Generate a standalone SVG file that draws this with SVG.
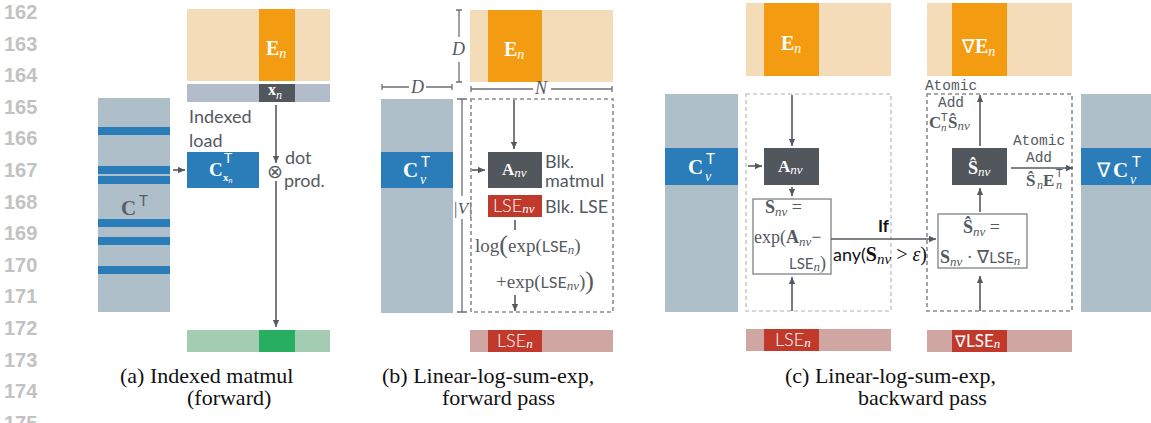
<svg xmlns="http://www.w3.org/2000/svg" width="1151" height="423" viewBox="0 0 1151 423">
<style>
.ln{font-family:"Liberation Sans",Arial,sans-serif;font-size:20px;font-weight:bold;fill:#c2c2c2}
.cap{font-family:"Liberation Serif","Times New Roman",serif;font-size:22px;fill:#111}
.sans{font-family:Lato,"Liberation Sans",sans-serif;font-size:18px;fill:#555a61}
.mono{font-family:"Liberation Mono","DejaVu Sans Mono",monospace;font-size:14.5px;fill:#555a61}
.m{font-family:"Liberation Serif","Times New Roman",serif}
.b{font-weight:bold}
.i{font-style:italic;font-weight:normal}
.w{fill:#fff}
.g{fill:#555a61}
.lo{fill:#f4dcb8}.do{fill:#f39c12}
.lb{fill:#aebfca}.bl{fill:#2a7db8}
.dg{fill:#52565d}.rd{fill:#c0392b}.lr{fill:#cfa6a2}
.lg{fill:#a3ccb3}.gr{fill:#27ae60}
.c{stroke:#555a61;stroke-width:1.6;fill:none}
.dim{stroke:#6b6f76;stroke-width:1.3;fill:none}
.box{fill:#fff;stroke:#7d8188;stroke-width:1.3}
.dash{fill:none;stroke:#8a8d92;stroke-width:1.6;stroke-dasharray:4 3}
.dashl{fill:none;stroke:#c9cacc;stroke-width:1.6;stroke-dasharray:4 3}
.tt{font-family:Lato,"Liberation Sans",sans-serif;font-style:normal;font-weight:normal}
</style>
<defs>
<marker id="ah" viewBox="0 0 10 10" refX="10" refY="5" markerWidth="7" markerHeight="7" markerUnits="userSpaceOnUse" orient="auto"><path d="M0,0.5 L10,5 L0,9.5 z" fill="#555a61"/></marker>
</defs>
<rect width="1151" height="423" fill="#fff"/>

<g id="linenumbers">
<text class="ln" x="4" y="19">162</text>
<text class="ln" x="4" y="50.6">163</text>
<text class="ln" x="4" y="82.2">164</text>
<text class="ln" x="4" y="113.8">165</text>
<text class="ln" x="4" y="145.4">166</text>
<text class="ln" x="4" y="177">167</text>
<text class="ln" x="4" y="208.6">168</text>
<text class="ln" x="4" y="240.2">169</text>
<text class="ln" x="4" y="271.8">170</text>
<text class="ln" x="4" y="303.4">171</text>
<text class="ln" x="4" y="335">172</text>
<text class="ln" x="4" y="366.6">173</text>
<text class="ln" x="4" y="398.2">174</text>
<text class="ln" x="4" y="429.8">175</text>
</g>

<!-- Panel (a) -->
<g id="a-E">
<rect class="lo" x="187" y="9" width="143" height="72"/>
<rect class="do" x="259" y="9" width="36" height="72"/>
<text class="m b w" x="266" y="55" font-size="20">E<tspan class="i" font-size="14" dy="3">n</tspan></text>
</g>
<g id="a-x">
<rect fill="#b2bccb" x="187" y="84" width="143" height="18"/>
<rect class="dg" x="259" y="84" width="36" height="18"/>
<text class="m b w" x="268" y="95" font-size="16">x<tspan class="i" font-size="12" dy="4">n</tspan></text>
</g>
<g id="a-C">
<rect class="lb" x="98" y="98" width="72" height="214"/>
<rect class="bl" x="98" y="127" width="72" height="8"/>
<rect class="bl" x="98" y="166" width="72" height="8"/>
<rect class="bl" x="98" y="176" width="72" height="8"/>
<rect class="bl" x="98" y="219" width="72" height="8"/>
<rect class="bl" x="98" y="237" width="72" height="8"/>
<rect class="bl" x="98" y="266" width="72" height="8"/>
<text class="m b" fill="#5a5e65" x="121" y="215" font-size="21">C<tspan class="tt" x="139" y="206" font-size="15">T</tspan></text>
</g>
<g id="a-Cx">
<rect class="bl" x="187" y="152" width="72" height="36"/>
<text class="m b w" x="209" y="176" font-size="19">C<tspan class="tt" x="224" y="163" font-size="14">T</tspan><tspan x="223" y="181" font-size="11">x</tspan><tspan class="i" font-size="8" dy="2">n</tspan></text>
</g>
<g id="a-labels">
<text class="sans" x="189" y="123">Indexed</text>
<text class="sans" x="189" y="147">load</text>
<text x="267" y="178" font-family="'DejaVu Sans',sans-serif" font-size="19" fill="#555a61">⊗</text>
<text class="sans" x="285" y="164">dot</text>
<text class="sans" x="284" y="187">prod.</text>
</g>
<g id="a-out">
<rect class="lg" x="187" y="330" width="143" height="22"/>
<rect class="gr" x="259" y="330" width="36" height="22"/>
</g>

<!-- Panel (b) -->
<g id="b-E">
<rect class="lo" x="470" y="10" width="143" height="72"/>
<rect class="do" x="488" y="10" width="54" height="72"/>
<text class="m b w" x="504" y="56" font-size="20">E<tspan class="i" font-size="14" dy="3">n</tspan></text>
</g>
<g id="b-dims">
<path class="dim" d="M456,10H462M459,10V37M459,62V82M456,82H462"/>
<text class="m i" fill="#555a61" x="452" y="55" font-size="18">D</text>
<path class="dim" d="M382,84V90M382,87H409M426,87H452M452,84V90"/>
<text class="m i" fill="#555a61" x="411" y="93" font-size="18">D</text>
<path class="dim" d="M471,86V92M471,89H533M551,89H612M612,86V92"/>
<text class="m i" fill="#555a61" x="535" y="94" font-size="18">N</text>
<path class="dim" d="M457,99H467M462,99V196M462,219V312M457,312H467"/>
<text class="m i" fill="#555a61" x="453" y="214" font-size="17">|V|</text>
</g>
<g id="b-C">
<rect class="lb" x="381" y="99" width="72" height="214"/>
<rect class="bl" x="381" y="152" width="72" height="36"/>
<text class="m b w" x="403" y="177" font-size="21">C<tspan class="tt" x="421" y="167" font-size="15">T</tspan><tspan class="i" x="420" y="184" font-size="14">v</tspan></text>
</g>
<rect id="b-block" class="dash" x="471" y="99" width="142" height="213"/>
<g id="b-A">
<rect class="dg" x="488" y="152" width="54" height="36"/>
<text class="m b w" x="502" y="175" font-size="17">A<tspan class="i" font-size="13" dy="2">nv</tspan></text>
<text class="sans" x="545" y="168" font-size="17.5">Blk.<tspan x="545" y="187">matmul</tspan></text>
</g>
<g id="b-LSEnv">
<rect class="rd" x="488" y="195" width="54" height="22"/>
<text class="sans w" x="493" y="212" font-size="17" font-weight="300">LSE<tspan class="m i" font-size="13" dy="1">nv</tspan></text>
<text class="sans" x="545" y="213">Blk. LSE</text>
</g>
<g id="b-formula" fill="#555a61">
<text class="m" x="475" y="252" font-size="19">log<tspan font-size="26" dy="1">(</tspan><tspan dy="-1">exp(</tspan><tspan class="tt" font-size="16" font-weight="300">LSE</tspan><tspan class="i" font-size="13" dy="2">n</tspan><tspan dy="-2">)</tspan></text>
<text class="m" x="496" y="288" font-size="19">+exp(<tspan class="tt" font-size="16" font-weight="300">LSE</tspan><tspan class="i" font-size="13" dy="2">nv</tspan><tspan dy="-2">)</tspan><tspan font-size="26" dy="1">)</tspan></text>
</g>
<g id="b-out">
<rect class="lr" x="470" y="330" width="143" height="22"/>
<rect class="rd" x="488" y="330" width="54" height="22"/>
<text class="sans w" x="497" y="347" font-size="17" font-weight="300">LSE<tspan class="m i" font-size="13" dy="1">n</tspan></text>
</g>

<!-- Panel (c) -->
<g id="c-E">
<rect class="lo" x="746" y="3" width="145" height="73"/>
<rect class="do" x="764" y="3" width="55" height="73"/>
<text class="m b w" x="781" y="50" font-size="20">E<tspan class="i" font-size="14" dy="3">n</tspan></text>
</g>
<g id="c-C">
<rect class="lb" x="665" y="94" width="73" height="218"/>
<rect class="bl" x="665" y="148" width="73" height="37"/>
<text class="m b w" x="688" y="174" font-size="21">C<tspan class="tt" x="706" y="164" font-size="15">T</tspan><tspan class="i" x="705" y="181" font-size="14">v</tspan></text>
</g>
<rect id="c-block1" class="dashl" x="746" y="94" width="145" height="217"/>
<g id="c-A">
<rect class="dg" x="764" y="148" width="55" height="37"/>
<text class="m b w" x="778" y="172" font-size="17">A<tspan class="i" font-size="13" dy="2">nv</tspan></text>
</g>
<g id="c-S">
<rect class="box" x="753" y="199" width="78" height="75"/>
<text class="m" fill="#555a61" x="765" y="213" font-size="18"><tspan class="b">S</tspan><tspan class="i" font-size="13" dy="3">nv</tspan><tspan dy="-3"> =</tspan></text>
<text class="m" fill="#555a61" x="754" y="243" font-size="18">exp(<tspan class="b">A</tspan><tspan class="i" font-size="13" dy="3">nv</tspan><tspan dy="-3">−</tspan></text>
<text class="m" fill="#555a61" x="789" y="269" font-size="18"><tspan class="tt" font-size="15" font-weight="300">LSE</tspan><tspan class="i" font-size="13" dy="2">n</tspan><tspan dy="-2">)</tspan></text>
</g>
<g id="c-out1">
<rect class="lr" x="746" y="329" width="145" height="22"/>
<rect class="rd" x="764" y="329" width="55" height="22"/>
<text class="sans w" x="775" y="346" font-size="17" font-weight="300">LSE<tspan class="m i" font-size="13" dy="1">n</tspan></text>
</g>
<g id="c-if">
<text x="878" y="232" font-family="Lato,'Liberation Sans',sans-serif" font-weight="bold" font-size="17" fill="#111">If</text>
<text x="833" y="261" font-family="Lato,'Liberation Sans',sans-serif" font-size="18" fill="#111">any(<tspan class="m b" font-size="20">S</tspan><tspan class="m i" font-size="15" dy="3">nv</tspan><tspan class="m" font-size="20" dy="-3"> &gt; </tspan><tspan class="m i" font-size="20">ε</tspan><tspan class="m" font-size="20">)</tspan></text>
</g>
<g id="c-dE">
<rect class="lo" x="927" y="3" width="145" height="73"/>
<rect class="do" x="952" y="3" width="55" height="73"/>
<text class="m w" x="962" y="53" font-size="19">∇<tspan class="b" font-size="20">E</tspan><tspan class="i" font-size="14" dy="3">n</tspan></text>
</g>
<rect id="c-block2" class="dash" x="927" y="94" width="145" height="217"/>
<g id="c-atomic1">
<text class="mono" x="951" y="90" text-anchor="middle">Atomic</text>
<text class="mono" x="951" y="107" text-anchor="middle">Add</text>
<text class="m b" fill="#555a61" x="929" y="128" font-size="17">C<tspan class="tt" x="941" y="121" font-size="11">T</tspan><tspan class="i" x="941" y="131" font-size="11">n</tspan><tspan x="948" y="128">Ŝ</tspan><tspan class="i" font-size="13" dy="2">nv</tspan></text>
</g>
<g id="c-Shat">
<rect class="dg" x="952" y="148" width="55" height="37"/>
<text class="m b w" x="968" y="174" font-size="18">Ŝ<tspan class="i" font-size="13" dy="2">nv</tspan></text>
</g>
<g id="c-atomic2">
<text class="mono" x="1039" y="145" text-anchor="middle">Atomic</text>
<text class="mono" x="1039" y="162" text-anchor="middle">Add</text>
<text class="m b" fill="#555a61" x="1026" y="186" font-size="17">Ŝ<tspan class="i" x="1037" y="189" font-size="12">n</tspan><tspan x="1043" y="186">E</tspan><tspan class="tt" x="1056" y="177" font-size="11">T</tspan><tspan class="i" x="1056" y="189" font-size="12">n</tspan></text>
</g>
<g id="c-Shat2">
<rect class="box" x="938" y="214" width="89" height="54"/>
<text class="m" fill="#555a61" x="963" y="233" font-size="18"><tspan class="b">Ŝ</tspan><tspan class="i" font-size="13" dy="3">nv</tspan><tspan dy="-3"> =</tspan></text>
<text class="m" fill="#555a61" x="940" y="263" font-size="18"><tspan class="b">S</tspan><tspan class="i" font-size="13" dy="3">nv</tspan><tspan dy="-3"> · ∇</tspan><tspan class="tt" font-size="15" font-weight="300">LSE</tspan><tspan class="i" font-size="13" dy="2">n</tspan></text>
</g>
<g id="c-dC">
<rect class="lb" x="1081" y="94" width="70" height="218"/>
<rect class="bl" x="1081" y="148" width="70" height="37"/>
<text class="m w" x="1097" y="177" font-size="20">∇<tspan class="b" x="1113" font-size="21">C</tspan><tspan class="tt" x="1132" y="167" font-size="15">T</tspan><tspan class="i" x="1130" y="184" font-size="14">v</tspan></text>
</g>
<g id="c-out2">
<rect class="lr" x="927" y="330" width="145" height="22"/>
<rect class="rd" x="952" y="330" width="55" height="22"/>
<text class="m w" x="955" y="347" font-size="16">∇<tspan class="tt" font-size="17" font-weight="300">LSE</tspan><tspan class="i" font-size="13" dy="1">n</tspan></text>
</g>

<g id="connectors">
<line class="c" x1="173" y1="170" x2="185" y2="170" marker-end="url(#ah)"/>
<line class="c" x1="276" y1="105" x2="276" y2="163" marker-end="url(#ah)"/>
<line class="c" x1="276" y1="181" x2="276" y2="327" marker-end="url(#ah)"/>
<line class="c" x1="514" y1="100" x2="514" y2="149" marker-end="url(#ah)"/>
<line class="c" x1="472" y1="170" x2="485" y2="170" marker-end="url(#ah)"/>
<line class="c" x1="515" y1="220" x2="515" y2="230"/>
<line class="c" x1="515" y1="295" x2="515" y2="311" marker-end="url(#ah)"/>
<line class="c" x1="792" y1="95" x2="792" y2="146" marker-end="url(#ah)"/>
<line class="c" x1="748" y1="166" x2="762" y2="166" marker-end="url(#ah)"/>
<line class="c" x1="792" y1="187" x2="792" y2="196" marker-end="url(#ah)"/>
<line class="c" x1="792" y1="311" x2="792" y2="277" marker-end="url(#ah)"/>
<line class="c" x1="831" y1="239" x2="936" y2="239" marker-end="url(#ah)"/>
<line class="c" x1="980" y1="146" x2="980" y2="95" marker-end="url(#ah)"/>
<line class="c" x1="980" y1="212" x2="980" y2="188" marker-end="url(#ah)"/>
<line class="c" x1="980" y1="311" x2="980" y2="276" marker-end="url(#ah)"/>
<line class="c" x1="1011" y1="168" x2="1073" y2="168" marker-end="url(#ah)"/>
</g>

<g id="captions">
<text class="cap" x="120" y="383">(a) Indexed matmul<tspan x="187" y="405">(forward)</tspan></text>
<text class="cap" x="382" y="383">(b) Linear-log-sum-exp,<tspan x="442" y="405">forward pass</tspan></text>
<text class="cap" x="785" y="383">(c) Linear-log-sum-exp,<tspan x="858" y="405">backward pass</tspan></text>
</g>
</svg>
